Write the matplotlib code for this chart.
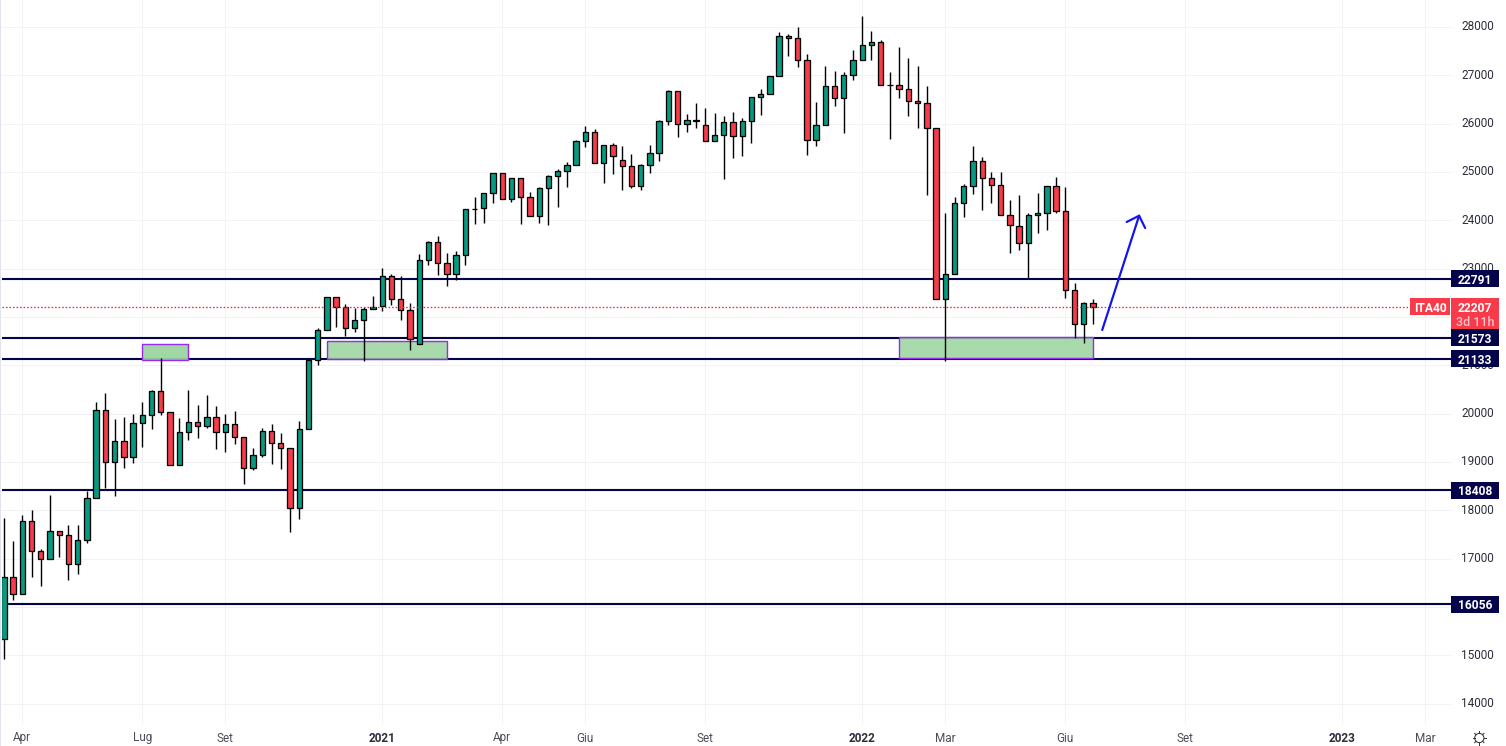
import numpy as np
import matplotlib
matplotlib.use("Agg")
import matplotlib.pyplot as plt
from matplotlib.patches import Rectangle, Circle

# Weekly candles (index = week number on the axis)
opens = [15328,16610,16259,17769,17148,16983,17562,17479,16879,17376,
         18245,20066,18990,19424,19093,19797,19962,20459,20024,18928,
         19610,19817,19735,19921,19610,19776,19507,18866,19135,19631,
         19383,19279,18038,19673,21100,21722,22404,22197,21763,21928,
         22156,22218,22839,22363,22135,21432,23170,23542,23108,22880,
         23273,24225,24246,24556,24970,24432,24867,24473,24080,24660,
         24908,25011,25135,25632,25818,25176,25549,25239,25114,24701,
         25135,25383,26045,26666,25983,26045,25963,25632,25756,26025,
         25735,26045,26542,26604,26977,27804,27763,27308,25652,25963,
         26770,26521,26997,27308,27618,27680,26795,26790,26708,26459,
         26418,25901,22362,22880,24349,24700,25218,24866,24721,24100,
         23873,23521,24100,24142,24700,24183,22549,21845,22280]
highs = [17838,17362,17893,17997,17190,18314,17562,17686,17686,18403,
         20238,20424,19886,19921,19983,20238,20480,21142,20024,19900,
         20480,20169,20383,20148,19983,20045,19507,19280,19693,19776,
         19590,19279,19838,21135,21763,22404,22404,22260,22177,22197,
         22425,23004,22880,22839,22280,23294,23563,23666,23315,23356,
         24225,24473,24556,24970,24970,24867,24867,24577,24680,24929,
         25050,25197,25659,25949,25880,25549,25590,25535,25370,25156,
         25556,26066,26687,26666,26190,26425,26314,26211,26149,26232,
         26108,26556,26708,26977,27887,27846,27990,27432,26439,27183,
         27080,27059,27515,28225,27908,27721,27066,27577,27349,27190,
         26770,25901,24149,24473,24742,25528,25300,24990,24990,24411,
         24514,24142,24556,24700,24887,24680,22693,22301,22362]
lows = [14914,16148,16259,16624,16438,16983,17038,16562,16686,17328,
        18245,18466,18300,18879,18983,19314,19686,19976,18928,18928,
        19459,19500,19693,19273,19210,19376,18548,18824,19107,18962,
        18859,17555,17824,19673,21011,21722,21797,21597,21694,21094,
        22156,22128,22246,21942,21315,21432,23073,22873,22646,22770,
        23080,23929,23949,24349,24432,24384,23929,24080,23949,23908,
        24280,24694,25135,25521,25176,24776,24963,24625,24673,24632,
        24983,25232,25963,25728,25832,25914,25632,25632,24859,25294,
        25335,25604,26183,26604,26977,27404,27177,25356,25542,25963,
        26370,25811,26894,27308,27308,26790,25687,26528,26156,25914,
        24528,22362,21093,22880,24073,24549,24218,24362,24100,23328,
        23376,22776,23742,23790,24142,22383,21556,21466,21859]
closes = [16610,16259,17769,17148,16983,17562,17479,16879,17376,18245,
          20066,18990,19424,19093,19797,19962,20459,20024,18928,19610,
          19817,19735,19921,19610,19776,19507,18866,19135,19631,19383,
          19279,18038,19673,21100,21722,22404,22197,21763,21928,22156,
          22211,22839,22363,22135,21535,23170,23542,23108,22880,23273,
          24225,24239,24556,24970,24432,24867,24473,24080,24660,24908,
          25011,25135,25632,25818,25176,25549,25321,25114,24701,25135,
          25383,26045,26666,25983,26066,26066,25632,25756,26025,25735,
          26045,26542,26604,26977,27804,27763,27308,25652,25963,26770,
          26521,26997,27308,27618,27680,26790,26790,26708,26459,26418,
          25901,22362,22880,24349,24700,25218,24866,24721,24100,23893,
          23521,24100,24142,24700,24183,22549,21845,22280,22207]

price_ticks = list(range(14000, 29000, 1000))
# 16000 and 22000 sit wholly behind the level and price labels in the reference
hidden_labels = [16000, 22000]
time_pos = [2, 15, 24, 41, 54, 63, 76, 93, 102, 115, 128, 145, 154]
time_lab = ["Apr", "Lug", "Set", "2021", "Apr", "Giu", "Set", "2022", "Mar", "Giu", "Set", "2023", "Mar"]
levels = [22791, 21573, 21133, 18408, 16056]
last_price = 22207
zones_x0 = [15, 35, 97]
zones_x1 = [20, 48, 118]
zones_lo = [21101, 21122, 21150]
zones_hi = [21445, 21495, 21583]
zones_alpha = [0.93, 0.85, 0.85]
arrow_x = [119, 123]
arrow_y = [21728, 24093]
barb_x = [121.65, 123, 123.65]
barb_y = [23963, 24093, 23839]

GREEN, RED, NAVY = "#089981", "#f73b4a", "#04044a"
W, H = 1506, 746
PX = 0.72
FONT = "Roboto"
plt.rcParams["font.family"] = [FONT, "DejaVu Sans"]

fig = plt.figure(figsize=(W / 100, H / 100), dpi=100, facecolor="white")

# overlay in pixels for chrome
axo = fig.add_axes([0, 0, 1, 1], zorder=0)
axo.set_xlim(0, W); axo.set_ylim(H, 0); axo.axis("off")
axo.add_patch(Rectangle((0, 0), 1.5, H, color="#dfe3ef", lw=0))
axo.add_patch(Circle((1479.3, 738), 4.6, fill=False, ec="#333333", lw=1 * PX))
for a in np.arange(0, 360, 45):
    c, s = np.cos(np.radians(a)), np.sin(np.radians(a))
    axo.plot([1479.3 + 4.6 * c, 1479.3 + 6.6 * c], [738 + 4.6 * s, 738 + 6.6 * s], color="#333333", lw=1 * PX)

L, R, B = 1.5, 1451, 724
ax = fig.add_axes([L / W, 1 - B / H, (R - L) / W, B / H], zorder=1)
ax.patch.set_alpha(0)
SC = 9.23
ax.set_xlim((L - 3.84) / SC, (R - 3.84) / SC)
PP = 20.691
ax.set_ylim(21000 + (365.2 - B) * PP, 21000 + 365.2 * PP)
for s in ax.spines.values():
    s.set_visible(False)

ax.yaxis.tick_right()
ax.set_yticks(price_ticks)
ax.set_yticklabels(["" if p in hidden_labels else str(p) for p in price_ticks],
                   fontsize=11.8 * PX, color="#2a2e39", ha="left", va="center")
ax.tick_params(axis="y", length=0, pad=10 * PX)
ax.set_xticks(time_pos)
ax.set_xticklabels(time_lab, fontsize=11.8 * PX, color="#4a4e59")
for t, s in zip(ax.get_xticklabels(), time_lab):
    if s.isdigit():
        t.set_fontweight("bold"); t.set_color("#2a2e39")
ax.tick_params(axis="x", length=0, pad=7.5 * PX)
ax.grid(True, color="#f0f2f6", lw=1 * PX, zorder=0)
ax.set_axisbelow(True)

ax.hlines(levels, *ax.get_xlim(), color=NAVY, lw=2.1 * PX, zorder=2)

for x0, x1, lo, hi, al in zip(zones_x0, zones_x1, zones_lo, zones_hi, zones_alpha):
    ax.add_patch(Rectangle((x0, lo), x1 - x0, hi - lo, facecolor=(0.60, 0.83, 0.62, al),
                           edgecolor="#9c27f0", lw=1.4 * PX, zorder=3))

x = np.arange(len(closes))
o, h, l, c = map(np.array, (opens, highs, lows, closes))
colors = np.where(c >= o, GREEN, RED)
ax.vlines(x, l, h, color="black", lw=1.4 * PX, zorder=4)
ax.bar(x, np.abs(c - o), bottom=np.minimum(o, c), width=0.58, color=colors,
       edgecolor="black", lw=1.3 * PX, zorder=5)

ax.plot([ax.get_xlim()[0], (1410 - 3.84) / SC], [last_price, last_price], color="#ff2030",
        lw=1.3 * PX, dashes=(1.2, 1.5), dash_capstyle="butt", zorder=6)

ax.plot(arrow_x, arrow_y, color="#1414f0", lw=2.2 * PX, zorder=7, solid_capstyle="round")
ax.plot(barb_x, barb_y, color="#1414f0", lw=2.2 * PX, zorder=7, solid_capstyle="round")

# right panel: labels, in pixels across and prices down
ax2 = fig.add_axes([R / W, 1 - B / H, (W - R) / W, B / H], zorder=2)
ax2.set_xlim(R, W); ax2.set_ylim(ax.get_ylim()); ax2.axis("off")


def box(x0, x1, ptop, pbot, color):
    ax2.add_patch(Rectangle((x0, pbot), x1 - x0, ptop - pbot, color=color, lw=0, clip_on=False, zorder=3))


for p in levels:
    box(1451, 1499, p + 8.5 * PP, p - 8.5 * PP, NAVY)
    ax2.text(1475, p, str(p), color="white", fontsize=12 * PX, fontweight="bold",
             ha="center", va="center_baseline", zorder=4)
box(1451, 1499, last_price + 8.6 * PP, last_price - 22.4 * PP, RED)
box(1410, 1450, last_price + 8.6 * PP, last_price - 8.4 * PP, RED)
ax2.text(1430, last_price, "ITA40", color="white", fontsize=12 * PX, fontweight="bold",
         ha="center", va="center_baseline", clip_on=False, zorder=4)
ax2.text(1475, last_price, str(last_price), color="white", fontsize=12 * PX, fontweight="bold",
         ha="center", va="center_baseline", zorder=4)
ax2.text(1475, last_price - 14.2 * PP, "3d 11h", color="#ffc4c9", fontsize=12.5 * PX, fontweight="medium",
         ha="center", va="center_baseline", zorder=4)

fig.savefig("out.png", dpi=100)
